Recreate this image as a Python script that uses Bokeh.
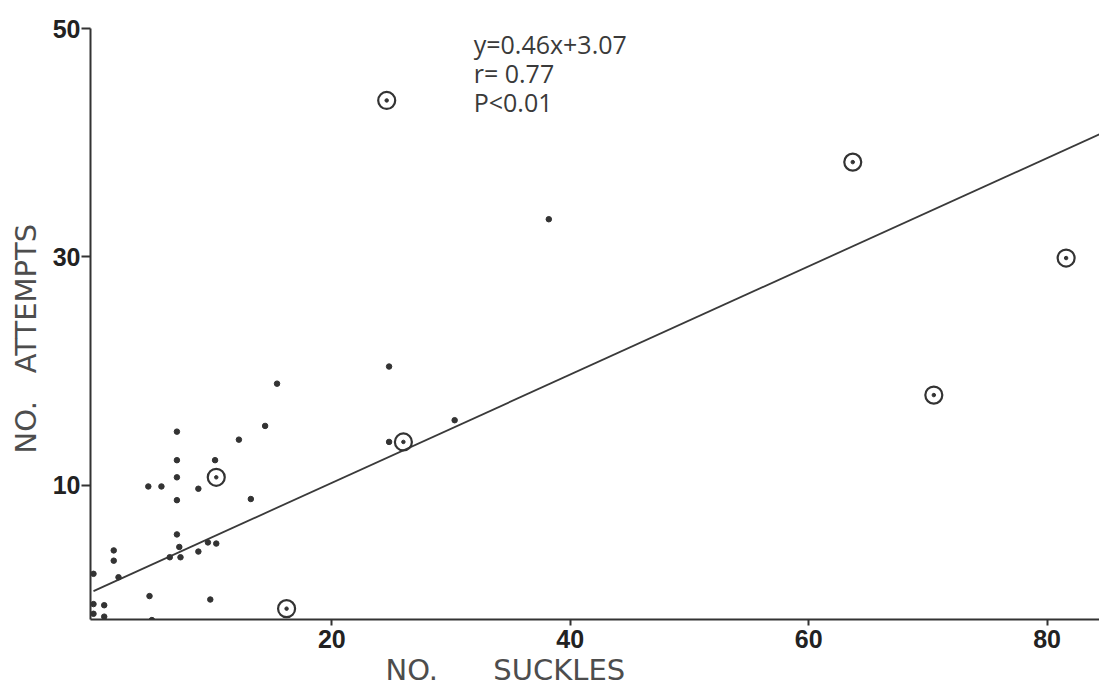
from bokeh.plotting import figure
from bokeh.models import FixedTicker, Range1d, Label, Title
from bokeh.embed import file_html
from bokeh.resources import INLINE

# ---- data ----
dots_x = [7.0, 12.2, 7.0, 10.2, 7.0, 4.6, 5.7, 8.8, 7.0, 13.2, 7.0, 7.2, 7.3, 6.4,
          8.8, 9.6, 10.3, 1.7, 1.7, 2.1, 0.0, 0.0, 0.9, 0.0, 0.9, 4.7, 4.9, 9.8,
          24.8, 30.3, 24.8, 15.4, 14.4, 38.2]
dots_y = [14.7, 14.0, 12.2, 12.2, 10.7, 9.9, 9.9, 9.7, 8.7, 8.8, 5.7, 4.6, 3.7, 3.7,
          4.2, 5.0, 4.9, 4.3, 3.4, 1.95, 2.25, -0.4, -0.5, -1.25, -1.5, 0.3, -1.8, 0.0,
          13.8, 15.7, 20.4, 18.9, 15.2, 33.3]
circled_x = [10.3, 16.2, 26.0, 24.6, 63.7, 81.6, 70.5]
circled_y = [10.7, -0.8, 13.8, 43.7, 38.3, 29.9, 17.9]
fit_x = [0.0, 86.0]
fit_y = [0.74, 41.5]
x_ticks = [20, 40, 60, 80]
y_ticks = [10, 30, 50]
stats_lines = ["y=0.46x+3.07", "r= 0.77", "P<0.01"]
x_title = "NO.\u00a0\u00a0\u00a0\u00a0\u00a0\u00a0SUCKLES"
y_title = "NO.\u00a0\u00a0\u00a0ATTEMPTS"

INK = "#333333"

p = figure(width=1099, height=686, output_backend="svg", toolbar_location=None,
           x_range=Range1d(-0.25, 84.4), y_range=Range1d(-1.75, 50.0),
           min_border_left=88, min_border_right=0, min_border_top=28,
           min_border_bottom=67)
p.outline_line_color = None
p.xgrid.visible = False
p.ygrid.visible = False
p.background_fill_color = "white"

for ax, ticks in ((p.xaxis, x_ticks), (p.yaxis, y_ticks)):
    ax.ticker = FixedTicker(ticks=ticks)
    ax.axis_line_width = 2
    ax.axis_line_color = INK
    ax.major_tick_line_color = INK
    ax.major_tick_line_width = 2
    ax.minor_tick_line_color = None
    ax.major_tick_in = 0
    ax.major_label_text_font = "Liberation Sans"
    ax.major_label_text_font_style = "bold"
    ax.major_label_text_font_size = "25px"
    ax.major_label_text_color = "#222222"
p.xaxis.major_tick_out = 6
p.xaxis.major_label_standoff = 4
p.yaxis.major_tick_out = 9
p.yaxis.major_label_standoff = 1

# axis titles as side titles so they can be placed off-centre
p.add_layout(Title(text=x_title, align="left", offset=295, text_font="DejaVu Sans",
                   text_font_size="29px", text_font_style="normal",
                   text_color="#4d4d4d", standoff=0), "below")
p.add_layout(Title(text=y_title, align="left", offset=166, text_font="DejaVu Sans",
                   text_font_size="29px", text_font_style="normal",
                   text_color="#4d4d4d", standoff=13), "left")

# regression line
p.line(fit_x, fit_y, line_color="#3a3a3a", line_width=1.8)

# plain dots
p.scatter(dots_x, dots_y, size=5.5, fill_color=INK, line_color=INK)
# circled points
p.scatter(circled_x, circled_y, size=17, marker="circle", fill_color=None,
          line_color=INK, line_width=2.2)
p.scatter(circled_x, circled_y, size=3.5, fill_color=INK, line_color=INK)

# statistics text
for i, t in enumerate(stats_lines):
    p.add_layout(Label(x=31.9, y=48.6 - 2.5 * i, text=t, text_font="Open Sans",
                       text_font_size="25px", text_color="#3a3a3a",
                       text_baseline="middle", text_align="left"))

open("out.html", "w").write(file_html(p, INLINE))
